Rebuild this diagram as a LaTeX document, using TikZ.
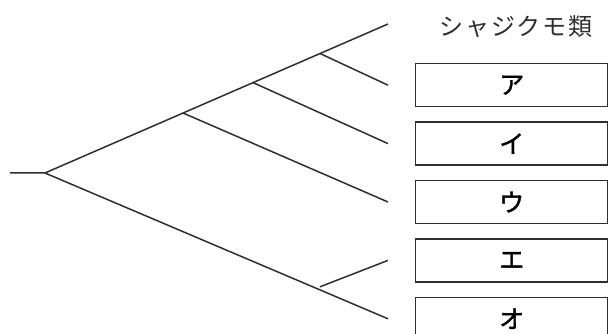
\documentclass[tikz,border=0pt]{standalone}
\usepackage{fontspec}
\newfontfamily\jpfont{Noto Sans CJK JP}
\usetikzlibrary{positioning}
\definecolor{Ink}{HTML}{2E2E2E}

\tikzset{
  branch/.style={draw=Ink, line width=1.5pt},
  taxonbox/.style={draw=Ink, line width=1.4pt, minimum width=192pt, minimum height=43pt, inner sep=0pt, font=\jpfont\addfontfeature{FakeBold=1.5}\fontsize{25}{25}\selectfont},
  grouplabel/.style={inner sep=0pt, text=Ink, font=\jpfont\addfontfeature{LetterSpace=8}\fontsize{24}{24}\selectfont},
}

\begin{document}
\begin{tikzpicture}[x=1pt, y=-1pt, node distance=14pt]
\useasboundingbox (0,0) rectangle (608,334);
\clip (0,0) rectangle (608,334);

% boxes for the unknown groups
\node[taxonbox, anchor=north west] (boxA) at (415,63) {ア};
\node[taxonbox, below=of boxA] (boxI) {イ};
\node[taxonbox, below=of boxI] (boxU) {ウ};
\node[taxonbox, below=of boxU] (boxE) {エ};
\node[taxonbox, below=of boxE] (boxO) {オ};
\node[grouplabel] (chara) at (516,27) {シャジクモ類};

% branch points
\coordinate (stem) at (10,173);
\coordinate (root) at (45,173);
\coordinate (top) at (388,24);
\coordinate (bottom) at ([xshift=-27pt]boxO.west);
\coordinate (j1) at (320,53.5);
\coordinate (j2) at (253,82.6);
\coordinate (j3) at (183,113);
\coordinate (j4) at (320,286.8);

\draw[branch] (stem) -- (root) -- (top);
\draw[branch] (root) -- (bottom);
\draw[branch] (j1) -- ([xshift=-27pt]boxA.west);
\draw[branch] (j2) -- ([xshift=-27pt]boxI.west);
\draw[branch] (j3) -- ([xshift=-27pt]boxU.west);
\draw[branch] (j4) -- ([xshift=-27pt]boxE.west);
\end{tikzpicture}
\end{document}
